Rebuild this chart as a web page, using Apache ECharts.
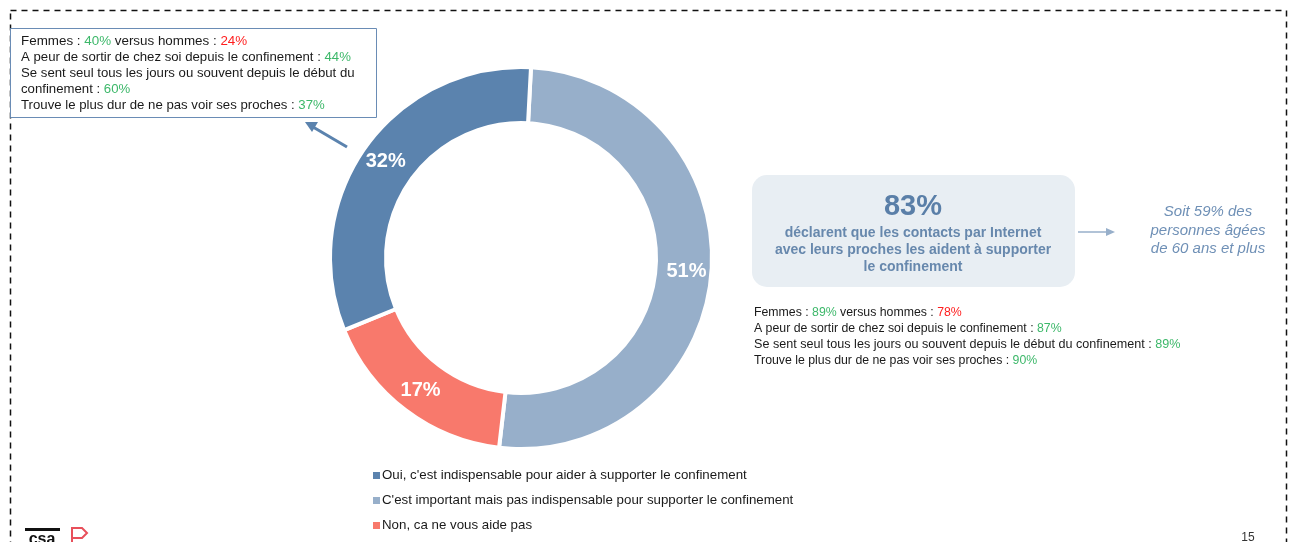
<!DOCTYPE html>
<html><head><meta charset="utf-8">
<script src="https://cdn.jsdelivr.net/npm/echarts@6/dist/echarts.min.js"></script>
<style>html,body{margin:0;padding:0;background:#fff}#c{width:1298px;height:542px}</style>
</head><body><div id="c"></div>
<script>
const categories = [
  "C'est important mais pas indispensable pour supporter le confinement",
  "Non, ca ne vous aide pas",
  "Oui, c'est indispensable pour aider à supporter le confinement"
];
const values = [51, 17, 32];
const legendOrder = [categories[2], categories[0], categories[1]];
const leftNotes = [
  ["Femmes : ", "40%", " versus hommes : ", "24%"],
  ["A peur de sortir de chez soi depuis le confinement : ", "44%"],
  ["Se sent seul tous les jours ou souvent depuis le début du"],
  ["confinement : ", "60%"],
  ["Trouve le plus dur de ne pas voir ses proches : ", "37%"]
];
const rightNotes = [
  ["Femmes : ", "89%", " versus hommes : ", "78%"],
  ["A peur de sortir de chez soi depuis le confinement : ", "87%"],
  ["Se sent seul tous les jours ou souvent depuis le début du confinement : ", "89%"],
  ["Trouve le plus dur de ne pas voir ses proches : ", "90%"]
];
const headline = "83%";
const headlineText = ["déclarent que les contacts par Internet", "avec leurs proches les aident à supporter", "le confinement"];
const sideText = ["Soit 59% des", "personnes âgées", "de 60 ans et plus"];

const FONT = '"Liberation Sans", Arial, sans-serif';
const GREEN = '#3DB86A', RED = '#FF1E1E';

function noteText(parts) {
  return parts.map((p, i) => {
    if (i % 2 === 0) return '{t|' + p + '}';
    return (i === 1 ? '{g|' : '{r|') + p + '}';
  }).join('');
}
function noteRich(size) {
  return {
    t: {fill: '#1a1a1a', fontSize: size, fontFamily: FONT},
    g: {fill: GREEN, fontSize: size, fontFamily: FONT},
    r: {fill: RED, fontSize: size, fontFamily: FONT}
  };
}

const graphics = [];
graphics.push({type: 'rect', shape: {x: 10.5, y: 10.5, width: 1276, height: 560},
  style: {fill: 'none', stroke: '#111', lineWidth: 1.5, lineDash: [6, 5]}, z: 0});
graphics.push({type: 'rect', shape: {x: 10.5, y: 28.5, width: 366, height: 89},
  style: {fill: '#fff', stroke: '#6A8CB5', lineWidth: 1}, z: 1});
const leftY = [41, 57, 73, 89, 105];
const leftSizes = [13.4, 13.2, 13.2, 13.2, 13.2];
leftNotes.forEach((parts, i) => {
  graphics.push({type: 'text', x: 21, y: leftY[i], z: 2,
    style: {text: noteText(parts), rich: noteRich(leftSizes[i]), verticalAlign: 'middle', align: 'left'}});
});
graphics.push({type: 'line', shape: {x1: 347, y1: 147, x2: 313, y2: 127}, style: {stroke: '#5B83AE', lineWidth: 3}, z: 2});
graphics.push({type: 'polygon', shape: {points: [[305, 122], [318, 122], [312, 132]]}, style: {fill: '#5B83AE'}, z: 2});
graphics.push({type: 'rect', shape: {x: 752, y: 175, width: 323, height: 112, r: 15},
  style: {fill: '#E8EEF3'}, z: 1});
graphics.push({type: 'text', x: 913, y: 207, z: 2,
  style: {text: headline, fill: '#5A7FA8', font: 'bold 29px ' + FONT, align: 'center', verticalAlign: 'middle'}});
headlineText.forEach((t, i) => {
  graphics.push({type: 'text', x: 913, y: 233 + i * 17, z: 2,
    style: {text: t, fill: '#6788AD', font: 'bold 14px ' + FONT, align: 'center', verticalAlign: 'middle'}});
});
graphics.push({type: 'line', shape: {x1: 1078, y1: 232, x2: 1108, y2: 232}, style: {stroke: '#97AFCA', lineWidth: 1.5}, z: 2});
graphics.push({type: 'polygon', shape: {points: [[1115, 232], [1106, 228], [1106, 236]]}, style: {fill: '#97AFCA'}, z: 2});
sideText.forEach((t, i) => {
  graphics.push({type: 'text', x: 1208, y: 212 + i * 18.5, z: 2,
    style: {text: t, fill: '#6F90B6', font: 'italic 15px ' + FONT, align: 'center', verticalAlign: 'middle'}});
});
const rightY = [313, 329, 345, 361];
const rightSizes = [12.3, 12.3, 12.6, 12.3];
rightNotes.forEach((parts, i) => {
  graphics.push({type: 'text', x: 754, y: rightY[i], z: 2,
    style: {text: noteText(parts), rich: noteRich(rightSizes[i]), verticalAlign: 'middle', align: 'left'}});
});
graphics.push({type: 'text', x: 1248, y: 538, z: 2,
  style: {text: '15', fill: '#333', font: '12px ' + FONT, align: 'center', verticalAlign: 'middle'}});
graphics.push({type: 'rect', shape: {x: 25, y: 528, width: 35, height: 3}, style: {fill: '#111'}, z: 2});
graphics.push({type: 'text', x: 42, y: 540, z: 2,
  style: {text: 'csa', fill: '#111', font: 'bold 16px ' + FONT, align: 'center', verticalAlign: 'middle'}});
graphics.push({type: 'polyline', shape: {points: [[72, 542], [72, 528], [82, 528], [87, 533], [82, 538], [72, 538]]},
  style: {stroke: '#E8505B', lineWidth: 2, fill: 'none'}, z: 2});

const chart = echarts.init(document.getElementById('c'));
chart.setOption({
  animation: false,
  color: ['#97AFCA', '#F8796C', '#5B83AE'],
  legend: {
    orient: 'vertical', left: 371, top: 469, padding: 0,
    data: legendOrder,
    icon: 'rect', itemWidth: 9, itemHeight: 9, itemGap: 12,
    textStyle: {fontFamily: FONT, fontSize: 13.3, color: '#1a1a1a', padding: [0, 0, 0, -4]},
    selectedMode: false
  },
  graphic: graphics,
  series: [{
    type: 'pie',
    center: [521, 258],
    radius: [135, 191],
    startAngle: 87,
    clockwise: true,
    itemStyle: {borderColor: '#fff', borderWidth: 4},
    label: {
      show: true, position: 'inside',
      formatter: '{c}%',
      color: '#fff', fontFamily: FONT, fontWeight: 'bold', fontSize: 20
    },
    labelLine: {show: false},
    emphasis: {disabled: true},
    data: categories.map((c, i) => ({name: c, value: values[i]}))
  }]
});
</script>
</body></html>
